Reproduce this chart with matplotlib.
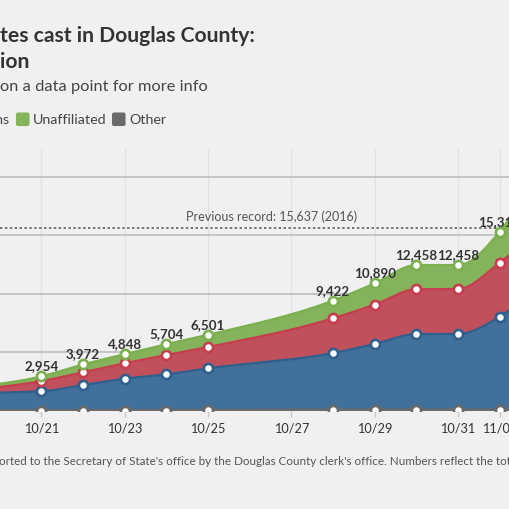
import numpy as np
import matplotlib
matplotlib.use("Agg")
import matplotlib.pyplot as plt
import matplotlib.dates as mdates
from matplotlib.patches import FancyBboxPatch

# ---- data (votes per party, by date) ----
dates = ["2018-10-19", "2018-10-21", "2018-10-22", "2018-10-23", "2018-10-24",
         "2018-10-25", "2018-10-28", "2018-10-29", "2018-10-30", "2018-10-31",
         "2018-11-01", "2018-11-02"]
other = [20, 25, 30, 35, 40, 45, 60, 65, 70, 70, 80, 90]
democrats = [1500, 1655, 2190, 2725, 3090, 3595, 4890, 5655, 6500, 6504, 7970, 10760]
republicans = [200, 870, 1080, 1310, 1650, 1820, 2960, 3360, 3820, 3841, 4610, 4810]
unaffiliated = [246, 404, 672, 778, 924, 1041, 1512, 1810, 2068, 2043, 2656, 5340]
# labels shown above each point (points outside the visible window carry none)
total_labels = ["", "2,954", "3,972", "4,848", "5,704", "6,501", "9,422",
                "10,890", "12,458", "12,458", "15,316", ""]
previous_record = 15637
tick_dates = ["2018-10-21", "2018-10-23", "2018-10-25", "2018-10-27",
              "2018-10-29", "2018-10-31", "2018-11-01"]
tick_labels = ["10/21", "10/23", "10/25", "10/27", "10/29", "10/31", "11/01"]
grid_values = [5000, 10000, 15000, 20000]

BG = "#f0f0f0"
C_OTHER = "#6a6a6a"
C_DEM = ("#41709a", "#2f5f8c")
C_REP = ("#c1505d", "#c63d4e")
C_UNA = ("#84b35b", "#7bb04f")


def monotone(x, y, n=40):
    x = np.asarray(x, float); y = np.asarray(y, float)
    h = np.diff(x); s = np.diff(y) / h
    m = np.zeros_like(y)
    for i in range(1, len(y) - 1):
        p = (s[i - 1] * h[i] + s[i] * h[i - 1]) / (h[i - 1] + h[i])
        m[i] = (np.sign(s[i - 1]) + np.sign(s[i])) * min(abs(s[i - 1]), abs(s[i]), 0.5 * abs(p))
    m[0] = (3 * s[0] - m[1]) / 2
    m[-1] = (3 * s[-1] - m[-2]) / 2
    xs, ys = [], []
    for i in range(len(h)):
        t = np.linspace(0, 1, n, endpoint=(i == len(h) - 1))
        h00 = 2 * t**3 - 3 * t**2 + 1
        h10 = t**3 - 2 * t**2 + t
        h01 = -2 * t**3 + 3 * t**2
        h11 = t**3 - t**2
        xs.append(x[i] + t * h[i])
        ys.append(h00 * y[i] + h10 * h[i] * m[i] + h01 * y[i + 1] + h11 * h[i] * m[i + 1])
    return np.concatenate(xs), np.concatenate(ys)


W = H = 510
fig = plt.figure(figsize=(5.1, 5.1), dpi=100, facecolor=BG)

def fx(px):
    return px / W

def fy(py):
    return 1 - py / H

base_px, top_px = 412, 150
ax = fig.add_axes([0, fy(base_px), 1, (base_px - top_px) / H])
ax.set_facecolor(BG)
for sp in ax.spines.values():
    sp.set_visible(False)

xd = mdates.datestr2num(dates)
d21 = mdates.datestr2num("2018-10-21")
ax.set_xlim(d21 - 0.991, d21 + 11.248)
ax.set_ylim(0, 22368)

# grid
for gv in grid_values:
    ax.axhline(gv, color="#c4c4c4", lw=1.4, zorder=1)
xt = mdates.datestr2num(tick_dates)
for t in xt:
    ax.axvline(t, color="#e1e1e1", lw=0.9, zorder=0.5)

c1 = np.cumsum([other, democrats, republicans, unaffiliated], axis=0)
layers = [(C_DEM, c1[0], c1[1]), (C_REP, c1[1], c1[2]), (C_UNA, c1[2], c1[3])]
for (fill, line), lo, hi in layers:
    xs, ylo = monotone(xd, lo)
    _, yhi = monotone(xd, hi)
    ax.fill_between(xs, ylo, yhi, color=fill, lw=0, zorder=2)
    ax.plot(xs, yhi, color=line, lw=1.6, zorder=3)
xs, yo = monotone(xd, c1[0])
ax.fill_between(xs, 0, yo, color=C_OTHER, lw=0, zorder=2)
ax.plot(xs, yo, color=C_OTHER, lw=2.4, zorder=3)

# markers
MS, MEW = 6.6, 1.9
ax.plot(xd, c1[0], 'o', ms=MS, mfc="white", mec=C_OTHER, mew=MEW, zorder=4)
ax.plot(xd, c1[1], 'o', ms=MS, mfc="white", mec=C_DEM[1], mew=MEW, zorder=5)
ax.plot(xd, c1[2], 'o', ms=MS, mfc="white", mec=C_REP[1], mew=MEW, zorder=6)
ax.plot(xd, c1[3], 'o', ms=MS, mfc="white", mec=C_UNA[1], mew=MEW, zorder=7)

for xv, yv, lab in zip(xd, c1[3], total_labels):
    if not lab:
        continue
    ax.annotate(lab, (xv, yv), xytext=(0, 7), textcoords="offset pixels",
                ha="center", va="baseline", fontsize=9.6, fontweight="bold",
                family="Lato", color="#333333", zorder=8, annotation_clip=False)

# previous record
ax.axhline(previous_record, color="#555555", lw=1.1, ls=(0, (1.6, 1.6)), zorder=1.5)
fig.text(fx(272), fy(217), "Previous record: 15,637 (2016)", ha="center", va="center",
         fontsize=9.0, family="Lato", color="#555555")

# x ticks
ax.set_xticks(xt)
ax.set_xticklabels(tick_labels)
ax.tick_params(axis="x", length=4, color="#c8c8c8", width=1, pad=3.5, labelsize=9.2,
               labelcolor="#333333")
for lbl in ax.get_xticklabels():
    lbl.set_family("Lato")
ax.set_yticks([])

# titles
fig.text(fx(0), fy(36), "tes cast in Douglas County:", ha="left", va="center",
         fontsize=15.2, fontweight="bold", family="Lato", color="#333333")
fig.text(fx(0), fy(62), "ion", ha="left", va="center",
         fontsize=15.2, fontweight="bold", family="Lato", color="#333333")
fig.text(fx(0), fy(87), "on a data point for more info", ha="left", va="center",
         fontsize=11.8, family="Lato", color="#444444")

# legend
fig.text(fx(9.5), fy(120), "Republicans", ha="right", va="center",
         fontsize=10.3, family="Lato", color="#444444")
for x0, col in [(16, C_UNA[0]), (112, C_OTHER)]:
    fig.patches.append(FancyBboxPatch((fx(x0 + 1.5), fy(125.5)), fx(10.5), 10.5 / H,
                                      boxstyle="round,pad=0.003,rounding_size=0.004",
                                      transform=fig.transFigure, facecolor=col,
                                      edgecolor="none"))
fig.text(fx(33), fy(120), "Unaffiliated", ha="left", va="center",
         fontsize=10.3, family="Lato", color="#444444")
fig.text(fx(129.5), fy(120), "Other", ha="left", va="center",
         fontsize=10.3, family="Lato", color="#444444")

# footer
fig.text(fx(-1), fy(462),
         "orted to the Secretary of State's office by the Douglas County clerk's office. "
         "Numbers reflect the total number of advance ballots cast.",
         ha="left", va="center", fontsize=8.38, family="Lato", color="#555555")

fig.savefig("out.png", dpi=100, facecolor=BG)
